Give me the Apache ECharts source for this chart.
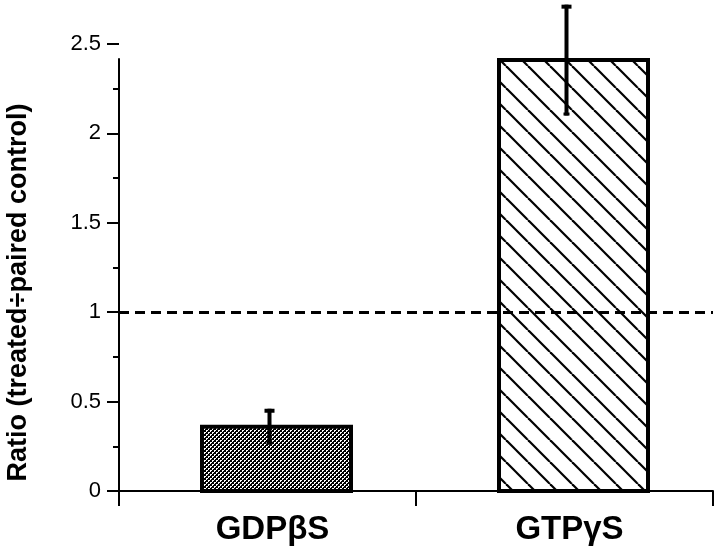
<!DOCTYPE html>
<html><head><meta charset="utf-8">
<script src="https://cdn.jsdelivr.net/npm/echarts@6/dist/echarts.min.js"></script>
<style>html,body{margin:0;padding:0;background:#fff}#c{width:720px;height:549px}</style>
</head><body><div id="c"></div>
<script>
// ---- data ----
const categories = ['GDPβS', 'GTPγS'];
const ratios = [0.36, 2.41];
const errors = [0.10, 0.31];
const yTickValues = [0, 0.5, 1, 1.5, 2, 2.5];
const referenceLevel = 1;
const yTitle = 'Ratio (treated÷paired control)';

// ---- patterns ----
function makeChecker() {
  const c = document.createElement('canvas'); c.width = 4; c.height = 4;
  const g = c.getContext('2d');
  g.fillStyle = '#000'; g.fillRect(0, 0, 4, 4);
  g.fillStyle = '#fff';
  g.fillRect(0, 0, 2, 1); g.fillRect(0, 1, 1, 1);
  g.fillRect(2, 2, 2, 1); g.fillRect(2, 3, 1, 1);
  return c;
}
function makeHatch() {
  const s = 22;
  const c = document.createElement('canvas'); c.width = s; c.height = s;
  const g = c.getContext('2d');
  g.fillStyle = '#fff'; g.fillRect(0, 0, s, s);
  g.strokeStyle = '#000'; g.lineWidth = 2.2;
  [-1, 0, 1].forEach(k => { g.beginPath(); g.moveTo(k * s, 0); g.lineTo(k * s + s, s); g.stroke(); });
  return c;
}
const patterns = [
  { type: 'pattern', image: makeChecker(), repeat: 'repeat' },
  { type: 'pattern', image: makeHatch(), repeat: 'repeat' }
];

const GRID = { left: 119, right: 7, top: 44, bottom: 58, outerBoundsMode: 'none', containLabel: false };
const FONT = '"Liberation Sans", Arial, Helvetica, sans-serif';

const chart = echarts.init(document.getElementById('c'), null, { renderer: 'canvas' });
const barData = categories.map((c, i) => [i, ratios[i], errors[i]]);

chart.setOption({
  animation: false,
  backgroundColor: '#fff',
  grid: GRID,
  xAxis: {
    type: 'category',
    data: categories,
    boundaryGap: true,
    axisLine: { show: true, lineStyle: { color: '#000', width: 2 } },
    axisTick: { show: true, length: 15, lineStyle: { color: '#000', width: 2 } },
    axisLabel: { color: '#000', fontSize: 33, fontWeight: 'bold', fontFamily: FONT, margin: 22,
                 padding: [0, 0, 0, 10] },
    splitLine: { show: false }
  },
  yAxis: {
    type: 'value',
    min: 0, max: 2.5, interval: 0.5,
    name: yTitle,
    nameLocation: 'middle',
    nameGap: 87,
    nameTextStyle: { color: '#000', fontSize: 27, fontWeight: 'bold', fontFamily: FONT,
                     padding: [0, 50, 0, 0] },
    axisLine: { show: false },
    axisTick: { show: true, length: 12, lineStyle: { color: '#000', width: 2 } },
    minorTick: { show: true, splitNumber: 2, length: 6, lineStyle: { color: '#000', width: 2 } },
    axisLabel: {
      color: '#000', fontSize: 22, fontFamily: FONT, margin: 18,
      formatter: v => (yTickValues.indexOf(v) >= 0 ? String(v) : '')
    },
    splitLine: { show: false },
    minorSplitLine: { show: false }
  },
  series: [
    {
      type: 'custom',
      data: barData,
      z: 3,
      renderItem: function (params, api) {
        const i = api.value(0), v = api.value(1), e = api.value(2);
        const top = api.coord([i, v]);
        const base = api.coord([i, 0]);
        const hi = api.coord([i, v + e]);
        const lo = api.coord([i, v - e]);
        const cx = top[0] + 2;
        const bw = 149, off = 9;
        return {
          type: 'group',
          children: [
            { type: 'rect', shape: { x: top[0] + off - bw / 2, y: top[1], width: bw, height: base[1] - top[1] },
              style: { fill: patterns[i], stroke: '#000', lineWidth: 4 } },
            { type: 'line', shape: { x1: cx, y1: hi[1], x2: cx, y2: lo[1] },
              style: { stroke: '#000', lineWidth: 4 } },
            { type: 'rect', shape: { x: cx - 5, y: hi[1], width: 10, height: 4 }, style: { fill: '#000' } },
            { type: 'rect', shape: { x: cx - 3, y: lo[1] - 3, width: 6, height: 3 }, style: { fill: '#000' } }
          ]
        };
      }
    },
    {
      type: 'line',
      data: [],
      z: 10,
      markLine: {
        silent: true,
        symbol: 'none',
        label: { show: false },
        lineStyle: { color: '#000', width: 3, type: [10, 6] },
        data: [{ yAxis: referenceLevel }]
      }
    }
  ]
});

// y axis line: starts a little below the top (2.5) tick, as in the reference
const yTopPx = chart.convertToPixel({ yAxisIndex: 0 }, 2.42);
const yZeroPx = chart.convertToPixel({ yAxisIndex: 0 }, 0);
chart.setOption({
  graphic: [{
    type: 'line', z: 5,
    shape: { x1: GRID.left, y1: yTopPx, x2: GRID.left, y2: yZeroPx },
    style: { stroke: '#000', lineWidth: 2 }
  }]
});
</script>
</body></html>
